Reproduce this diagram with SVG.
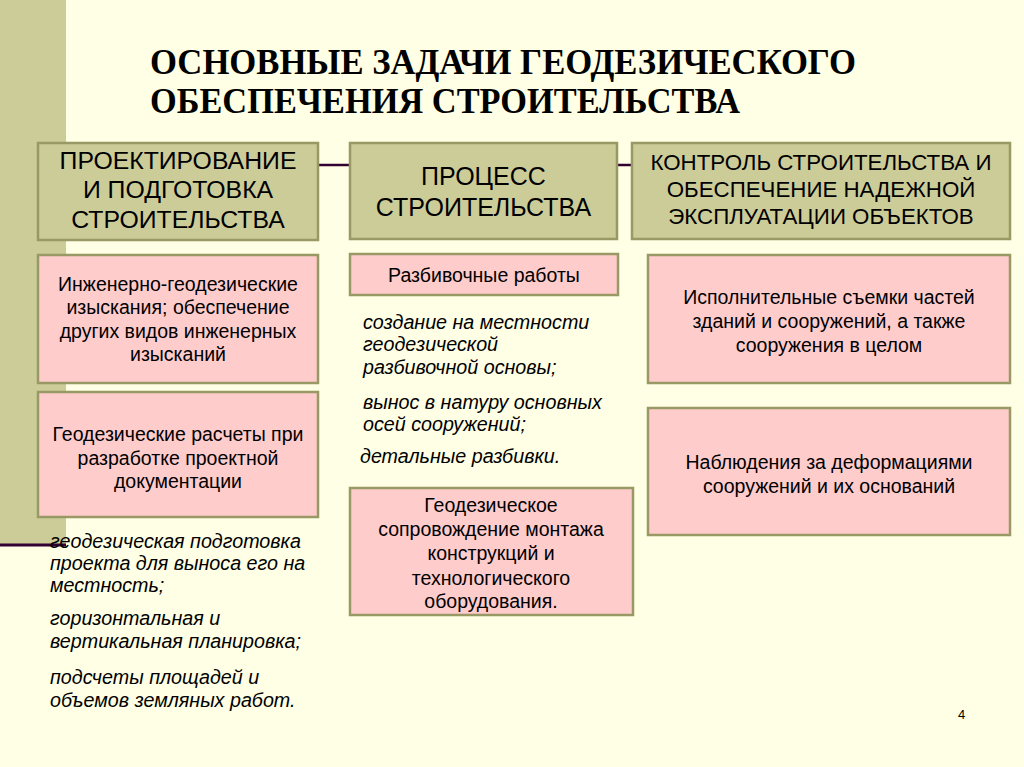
<svg xmlns="http://www.w3.org/2000/svg" width="1024" height="767" viewBox="0 0 1024 767">
<style>
.hdr{fill:#CCCC99;stroke:#999966;stroke-width:2.5}
.pink{fill:#FFCCCC;stroke:#999966;stroke-width:2.5}
.ht{font-family:"Liberation Sans",Arial,sans-serif;fill:#000;text-anchor:middle}
.bt{font-family:"Liberation Sans",Arial,sans-serif;font-size:19.5px;fill:#000;text-anchor:middle}
.it{font-family:"Liberation Sans",Arial,sans-serif;font-size:19.7px;font-style:italic;fill:#000}
.title{font-family:"Liberation Serif","Times New Roman",serif;font-weight:bold;font-size:36px;fill:#000}
.conn{stroke:#330033;stroke-width:2.5;fill:none}
</style>
<rect x="0" y="0" width="1024" height="767" fill="#FFFFE5"/>
<rect x="0" y="0" width="66" height="544" fill="#CCCC99"/>
<line x1="0" y1="545" x2="66" y2="545" stroke="#330033" stroke-width="3"/>
<g id="title">
<text class="title" x="150" y="74" textLength="706" lengthAdjust="spacingAndGlyphs">ОСНОВНЫЕ ЗАДАЧИ ГЕОДЕЗИЧЕСКОГО</text>
<text class="title" x="150" y="113" textLength="590" lengthAdjust="spacingAndGlyphs">ОБЕСПЕЧЕНИЯ СТРОИТЕЛЬСТВА</text>
</g>
<g id="connectors">
<line class="conn" x1="318" y1="165" x2="350" y2="165"/>
<line class="conn" x1="617" y1="165" x2="632" y2="165"/>
</g>
<g id="h1">
<rect class="hdr" x="38" y="143" width="280" height="97"/>
<text class="ht" font-size="24.8" x="178" y="169">ПРОЕКТИРОВАНИЕ</text>
<text class="ht" font-size="24.8" x="178" y="198">И ПОДГОТОВКА</text>
<text class="ht" font-size="24.8" x="178" y="228">СТРОИТЕЛЬСТВА</text>
</g>
<g id="h2">
<rect class="hdr" x="350" y="143" width="267" height="96"/>
<text class="ht" font-size="25" x="483.5" y="185">ПРОЦЕСС</text>
<text class="ht" font-size="25" x="483.5" y="216">СТРОИТЕЛЬСТВА</text>
</g>
<g id="h3">
<rect class="hdr" x="632" y="143" width="378" height="96"/>
<text class="ht" font-size="22.3" x="821" y="170">КОНТРОЛЬ СТРОИТЕЛЬСТВА И</text>
<text class="ht" font-size="22.3" x="821" y="197">ОБЕСПЕЧЕНИЕ НАДЕЖНОЙ</text>
<text class="ht" font-size="22.3" x="821" y="224">ЭКСПЛУАТАЦИИ ОБЪЕКТОВ</text>
</g>
<g id="pA">
<rect class="pink" x="38" y="255" width="280" height="128"/>
<text class="bt" x="178" y="291">Инженерно-геодезические</text>
<text class="bt" x="178" y="314">изыскания; обеспечение</text>
<text class="bt" x="178" y="338">других видов инженерных</text>
<text class="bt" x="178" y="361">изысканий</text>
</g>
<g id="pB">
<rect class="pink" x="38" y="392" width="280" height="125"/>
<text class="bt" x="178" y="441">Геодезические расчеты при</text>
<text class="bt" x="178" y="465">разработке проектной</text>
<text class="bt" x="178" y="488">документации</text>
</g>
<g id="leftList">
<text class="it" x="50" y="548">геодезическая подготовка</text>
<text class="it" x="50" y="570">проекта для выноса его на</text>
<text class="it" x="50" y="592">местность;</text>
<text class="it" x="50" y="625">горизонтальная и</text>
<text class="it" x="50" y="648">вертикальная планировка;</text>
<text class="it" x="50" y="684">подсчеты площадей и</text>
<text class="it" x="50" y="707">объемов земляных работ.</text>
</g>
<g id="pM1">
<rect class="pink" x="350" y="254" width="268" height="41"/>
<text class="bt" font-size="18.5" x="484" y="282">Разбивочные работы</text>
</g>
<g id="midList">
<text class="it" x="363" y="329">создание на местности</text>
<text class="it" x="363" y="351">геодезической</text>
<text class="it" x="363" y="374">разбивочной основы;</text>
<text class="it" x="363" y="409">вынос в натуру основных</text>
<text class="it" x="363" y="431">осей сооружений;</text>
<text class="it" x="360" y="463">детальные разбивки.</text>
</g>
<g id="pM2">
<rect class="pink" x="350" y="488" width="283" height="127"/>
<text class="bt" font-size="18.5" x="491" y="512">Геодезическое</text>
<text class="bt" font-size="18.5" x="491" y="536">сопровождение монтажа</text>
<text class="bt" font-size="18.5" x="491" y="560">конструкций и</text>
<text class="bt" font-size="18.5" x="491" y="585">технологического</text>
<text class="bt" font-size="18.5" x="491" y="608">оборудования.</text>
</g>
<g id="pC">
<rect class="pink" x="648" y="255" width="362" height="128"/>
<text class="bt" x="829" y="304">Исполнительные съемки частей</text>
<text class="bt" x="829" y="328">зданий и сооружений, а также</text>
<text class="bt" x="829" y="352">сооружения в целом</text>
</g>
<g id="pD">
<rect class="pink" x="648" y="408" width="362" height="127"/>
<text class="bt" x="829" y="469">Наблюдения за деформациями</text>
<text class="bt" x="829" y="493">сооружений и их оснований</text>
</g>
<text x="958" y="719" font-family="'Liberation Sans',Arial,sans-serif" font-size="13" fill="#000">4</text>
</svg>
